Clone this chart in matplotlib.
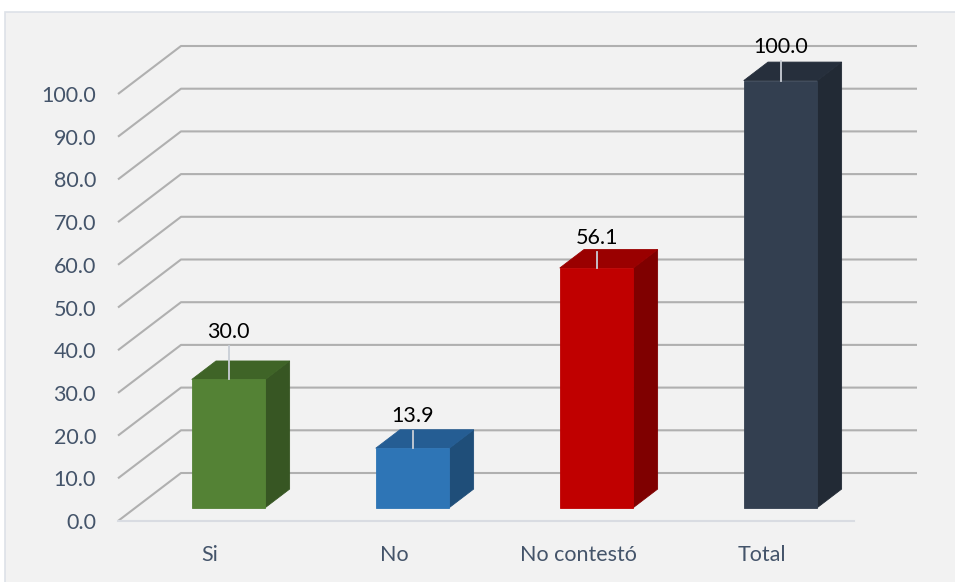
import numpy as np
import matplotlib.pyplot as plt
from matplotlib.patches import Polygon, Rectangle

categories = ['Si', 'No', 'No contestó', 'Total']
values = [30.0, 13.9, 56.1, 100.0]
y_ticks = np.arange(0, 101, 10)

front_colors = ['#548235', '#2e75b6', '#c00000', '#333f50']
top_colors = ['#3f6427', '#255d93', '#9a0000', '#262f3c']
side_colors = ['#375623', '#1f4e79', '#7f0000', '#222a35']
# label heights above bar top (value units), set by hand like the original
label_offsets = [11.7, 8.0, 7.6, 8.4]

plt.rcParams['font.family'] = ['Lato', 'DejaVu Sans']

fig = plt.figure(figsize=(9.55, 5.82), dpi=100)
fig.patch.set_facecolor('white')
fig.patches.append(Rectangle((5 / 955, -0.01), 1.0, 1 - 12 / 582 + 0.01,
                             transform=fig.transFigure, facecolor='#f2f2f2',
                             edgecolor='#dde1e8', lw=1.2, zorder=-5))

ax = fig.add_axes([0, 0, 1, 1])
ax.set_zorder(1)
ax.axis('off')
# 184 px per category, 4.27 px per value unit
ax.set_xlim(-0.5 - 118 / 184, -0.5 + (955 - 118) / 184)
ax.set_ylim(-(582 - 521) / 4.27, 521 / 4.27)

DX, DY = 63 / 184, 48 / 4.27      # full depth of the back wall
d_front, d_bar = 0.28, 0.385       # bar position / bar depth (fraction)
w = 0.40
x0, x1 = -0.5, len(categories) - 0.5
fs = 15.5

grid_c = '#b0b0b0'
for v in y_ticks:
    ax.plot([x0, x0 + DX, x1 + DX], [v, v + DY, v + DY],
            color=grid_c, lw=1.5, zorder=1, solid_capstyle='butt')
    ax.text(x0 - 0.12, v, f'{v:.1f}', ha='right', va='center_baseline',
            fontsize=fs, color='#44546a')
ax.plot([x0, x1], [0, 0], color='#d9dce2', lw=1.5, zorder=1)

for i, (cat, v) in enumerate(zip(categories, values)):
    bx = i - w / 2 + d_front * DX + 0.005
    by = d_front * DY
    ddx, ddy = d_bar * DX, d_bar * DY
    ax.add_patch(Polygon([(bx + w, by), (bx + w, by + v),
                          (bx + w + ddx, by + v + ddy), (bx + w + ddx, by + ddy)],
                         closed=True, facecolor=side_colors[i],
                         edgecolor=side_colors[i], lw=0.6, zorder=3))
    ax.add_patch(Polygon([(bx, by + v), (bx + w, by + v),
                          (bx + w + ddx, by + v + ddy), (bx + ddx, by + v + ddy)],
                         closed=True, facecolor=top_colors[i],
                         edgecolor=top_colors[i], lw=0.6, zorder=3))
    ax.add_patch(Rectangle((bx, by), w, v, facecolor=front_colors[i],
                           edgecolor=front_colors[i], lw=0.6, zorder=3))
    cx = bx + w / 2
    ly = by + v + label_offsets[i]
    ax.plot([cx, cx], [by + v, ly - 3.9], color='#c9ced6', lw=1.3, zorder=4)
    ax.text(cx, ly, f'{v:.1f}', ha='center', va='center_baseline', fontsize=fs,
            color='black', zorder=5)
    ax.text(i, -7.5, cat, ha='center', va='center_baseline', fontsize=fs,
            color='#44546a')

fig.savefig('out.png', dpi=100)
